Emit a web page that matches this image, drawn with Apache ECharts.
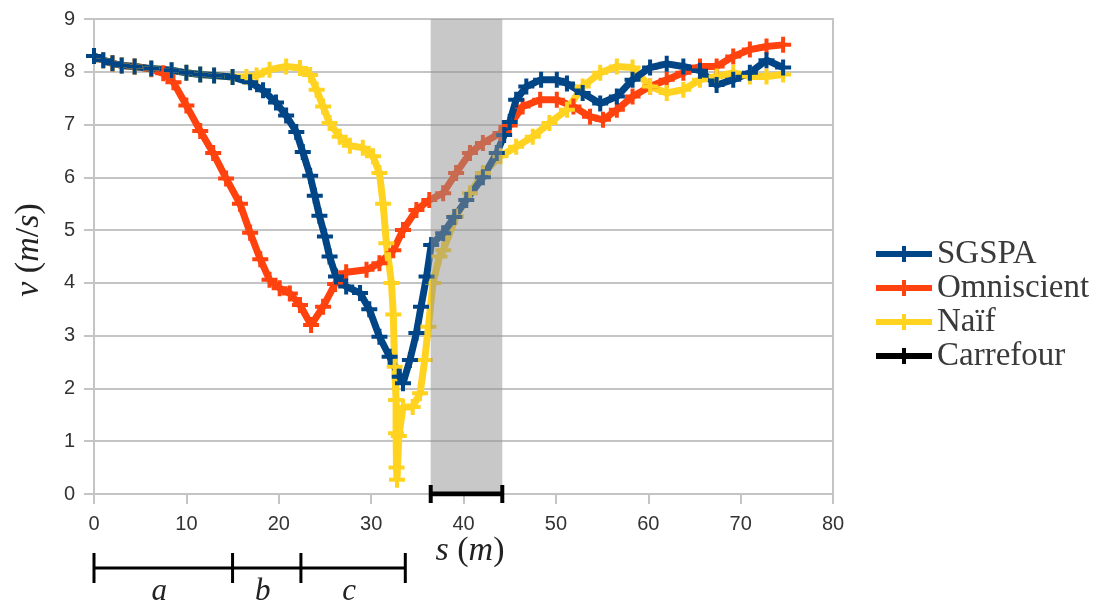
<!DOCTYPE html>
<html><head><meta charset="utf-8">
<script src="https://cdn.jsdelivr.net/npm/echarts@6/dist/echarts.min.js"></script>
<style>html,body{margin:0;padding:0;background:#fff}#c{width:1100px;height:603px}</style>
</head><body><div id="c"></div>
<script>
// s (m), v (m/s)
const sgspa = [[0,8.3],[1,8.22],[2,8.16],[3,8.12],[4.4,8.1],[6.2,8.06],[8.4,8.03],[10,7.98],[11.5,7.95],[13,7.93],[15,7.9],[16.9,7.8],[18.3,7.65],[19.7,7.42],[20.8,7.17],[21.9,6.86],[22.6,6.48],[23.4,6.03],[23.9,5.65],[24.4,5.27],[25,4.88],[25.5,4.5],[26.2,4.12],[27.3,3.93],[28.8,3.81],[29.8,3.5],[30.9,2.98],[32,2.6],[33.1,2.22],[33.45,2.1],[34.2,2.54],[34.9,3.05],[35.4,3.55],[36,4.12],[36.5,4.72],[37.8,4.94],[39,5.25],[40.3,5.57],[42.1,6.0],[43.6,6.46],[44.4,6.8],[45,7.05],[45.7,7.47],[46.8,7.72],[48.4,7.85],[50.1,7.85],[51.2,7.78],[52.9,7.6],[54.8,7.4],[56.6,7.53],[58.3,7.85],[60.2,8.08],[62,8.15],[63.8,8.1],[65.6,8.02],[67.4,7.75],[69.2,7.85],[71,7.98],[72.8,8.22],[74.6,8.08]];
const omniscient = [[0,8.3],[1,8.22],[2,8.16],[3,8.12],[4.4,8.1],[6.2,8.05],[7.5,7.97],[8.6,7.8],[10,7.36],[11.5,6.88],[12.9,6.46],[14.3,5.98],[15.8,5.5],[16.9,4.95],[18,4.45],[19,4.06],[20.1,3.9],[21.2,3.8],[22.3,3.58],[23.5,3.2],[24.8,3.55],[26.1,3.98],[27.3,4.2],[29.5,4.25],[30.9,4.37],[32.4,4.62],[33.45,5.0],[34.9,5.38],[36.3,5.57],[37.8,5.7],[39.2,6.08],[40.7,6.46],[42.1,6.65],[44,6.84],[45,6.98],[46.4,7.34],[48.3,7.47],[50.1,7.47],[51.9,7.34],[53.7,7.15],[55.1,7.09],[56.6,7.28],[58.3,7.53],[60.2,7.72],[62,7.85],[63.8,7.98],[65.6,8.1],[67.4,8.1],[69.2,8.29],[71,8.42],[72.8,8.48],[74.6,8.51]];
const naif = [[0,8.3],[1,8.22],[2,8.16],[3,8.12],[4.4,8.1],[6.2,8.06],[8.4,8.03],[10,7.98],[11.5,7.95],[13,7.93],[15,7.9],[16.5,7.9],[17.6,7.93],[19,8.04],[20.8,8.1],[22.3,8.07],[23.4,7.94],[24.1,7.66],[24.8,7.34],[25.5,7.03],[26.6,6.77],[27.7,6.6],[29.1,6.56],[30.2,6.4],[30.9,6.08],[31.3,5.5],[31.65,4.75],[32.2,4.0],[32.4,3.4],[32.55,2.41],[32.7,1.78],[32.7,1.15],[32.75,0.5],[32.8,0.27],[33.0,1.1],[33.45,1.65],[34.5,1.65],[35.3,1.91],[35.8,2.54],[36.2,3.17],[36.7,4.0],[37.4,4.5],[37.8,4.62],[39.2,5.26],[40.7,5.7],[42.1,6.08],[44,6.4],[45.7,6.58],[47.5,6.77],[49.3,7.03],[51.2,7.28],[52.9,7.72],[54.8,7.98],[56.6,8.1],[58.3,8.08],[60.2,7.72],[62,7.6],[63.8,7.66],[65.6,7.85],[67.4,7.91],[69.2,7.98],[71,7.91],[72.8,7.91],[74.6,7.95]];
const carrefour = [[36.45,0],[44.2,0]];
const bandRange = [36.45, 44.2];
const segBounds = [0, 15, 22.4, 33.7];
const segLabels = ['a', 'b', 'c'];
const legendNames = ['SGSPA', 'Omniscient', 'Naïf', 'Carrefour'];

const plus = 'path://M6,0H10V6H16V10H10V16H6V10H0V6H6Z';
const legendIcon = 'path://M0,5H26V0H30V5H56V11H30V16H26V11H0Z';
const gridColor = '#c4c4c4';
const serif = 'Liberation Serif';

function curve(name, data, color) {
  return {
    name, type: 'line', data, z: 2,
    symbol: plus, symbolSize: 16, showSymbol: true,
    lineStyle: { color, width: 7 },
    itemStyle: { color },
    emphasis: { disabled: true }
  };
}

const chart = echarts.init(document.getElementById('c'), null, { renderer: 'canvas' });
chart.setOption({
  animation: false,
  backgroundColor: '#fff',
  grid: { left: 94, right: 267, top: 19, bottom: 109, show: true, borderColor: gridColor, borderWidth: 2 },
  xAxis: {
    type: 'value', min: 0, max: 80, interval: 10,
    axisLine: { show: true, lineStyle: { color: gridColor, width: 2 } },
    axisTick: { show: true, length: 10, lineStyle: { color: gridColor, width: 2 } },
    axisLabel: { margin: 20, fontSize: 20, color: '#333', fontFamily: 'Liberation Sans' },
    splitLine: { show: false }
  },
  yAxis: {
    type: 'value', min: 0, max: 9, interval: 1,
    axisLine: { show: true, lineStyle: { color: gridColor, width: 2 } },
    axisTick: { show: true, length: 10, lineStyle: { color: gridColor, width: 2 } },
    axisLabel: { margin: 19, fontSize: 20, color: '#333', fontFamily: 'Liberation Sans' },
    splitLine: { show: true, lineStyle: { color: gridColor, width: 2 } }
  },
  legend: {
    orient: 'vertical', left: 876, top: 237, padding: 0,
    itemWidth: 56, itemHeight: 16, itemGap: 0, icon: legendIcon,
    data: legendNames,
    textStyle: { fontFamily: serif, fontSize: 33, color: '#3a3a3a', lineHeight: 34 }
  },
  series: [
    curve('Omniscient', omniscient, '#ff420e'),
    curve('Naïf', naif, '#ffd320'),
    curve('SGSPA', sgspa, '#004586'),
    {
      name: 'band', type: 'line', data: [], z: 3,
      markArea: {
        z: 3, silent: true,
        itemStyle: { color: 'rgba(145,145,145,0.5)' },
        data: [[{ xAxis: bandRange[0], yAxis: 0 }, { xAxis: bandRange[1], yAxis: 9 }]]
      }
    },
    {
      name: 'Carrefour', type: 'line', data: carrefour, z: 4,
      symbol: 'rect', symbolSize: [4, 18], showSymbol: true,
      lineStyle: { color: '#000', width: 5 }, itemStyle: { color: '#000' },
      emphasis: { disabled: true }
    }
  ]
});

const px = s => chart.convertToPixel({ xAxisIndex: 0 }, s);
const lineY = 568, tickTop = 553, tickBot = 583;
const g = [];
g.push({ type: 'line', shape: { x1: px(segBounds[0]), y1: lineY, x2: px(segBounds[segBounds.length - 1]), y2: lineY }, style: { stroke: '#000', lineWidth: 3 } });
segBounds.forEach(b => {
  g.push({ type: 'line', shape: { x1: px(b), y1: tickTop, x2: px(b), y2: tickBot }, style: { stroke: '#000', lineWidth: 3 } });
});
segLabels.forEach((t, i) => {
  g.push({ type: 'text', x: (px(segBounds[i]) + px(segBounds[i + 1])) / 2 - 4, y: 592,
    style: { text: t, font: 'italic 31px "Liberation Serif"', fill: '#222', align: 'center', verticalAlign: 'middle' } });
});
const richI = { i: { fontStyle: 'italic', fontFamily: serif, fontSize: 34, fill: '#222' } };
g.push({ type: 'text', x: 470, y: 551,
  style: { text: '{i|s} ({i|m})', font: '34px "Liberation Serif"', fill: '#222', align: 'center', verticalAlign: 'middle', rich: richI } });
g.push({ type: 'text', x: 29, y: 250, rotation: Math.PI / 2,
  style: { text: '{i|v} ({i|m}/{i|s})', font: '34px "Liberation Serif"', fill: '#222', align: 'center', verticalAlign: 'middle', rich: richI } });
chart.setOption({ graphic: g });
</script></body></html>
